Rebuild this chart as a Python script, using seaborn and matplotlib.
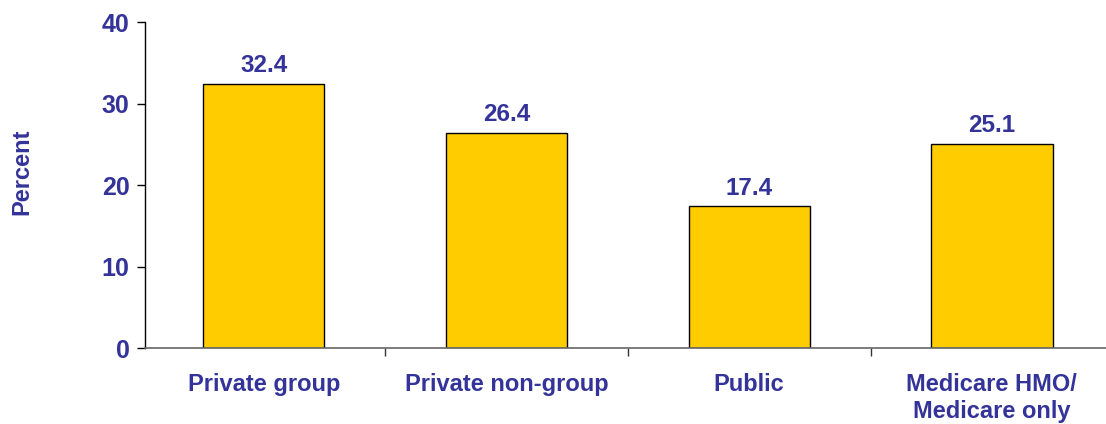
import pandas as pd
import matplotlib
matplotlib.use("Agg")
import matplotlib.pyplot as plt
import seaborn as sns

# dados
categorias = ["Private group", "Private non-group", "Public", "Medicare HMO/\nMedicare only"]
valores = [32.4, 26.4, 17.4, 25.1]

df = pd.DataFrame({"cat": categorias, "pct": valores})

sns.set_theme(style="white")
plt.rcParams['font.family'] = ['Liberation Sans', 'DejaVu Sans']

azul = "#333399"
fig = plt.figure(figsize=(11.06, 4.24), dpi=100)
ax = fig.add_axes([0.131, 0.179, 0.869, 0.769])

sns.barplot(data=df, x="cat", y="pct", color="#FFCC00", edgecolor="black",
            linewidth=1, width=0.5, saturation=1, ax=ax)

for i, v in enumerate(valores):
    ax.text(i, v + 0.8, f"{v:.1f}", ha="center", va="bottom",
            fontsize=17.5, fontweight="bold", color=azul)

ax.set_ylim(0, 40)
ax.set_yticks([0, 10, 20, 30, 40])
ax.set_xlim(-0.49, 3.47)
ax.set_xticks([0, 1, 2, 3])
ax.set_xticklabels(categorias)
ax.set_xticks([0.5, 1.5, 2.5], minor=True)

ax.set_xlabel("")
ax.set_ylabel("Percent", fontsize=17, fontweight="bold", color=azul, va="center")
ax.yaxis.set_label_coords(-0.128, 0.54)

for rotulo in ax.get_yticklabels():
    rotulo.set_fontweight("bold")
    rotulo.set_color(azul)
    rotulo.set_fontsize(18)
for rotulo in ax.get_xticklabels():
    rotulo.set_fontweight("bold")
    rotulo.set_color(azul)
    rotulo.set_fontsize(17)

ax.tick_params(axis="x", which="major", length=0, pad=18)
ax.tick_params(axis="x", which="minor", length=6, color="#333333", width=1, bottom=True)
ax.tick_params(axis="y", length=6, color="black", width=1, left=True, pad=5)

for s in ["top", "right"]:
    ax.spines[s].set_visible(False)
ax.spines["left"].set_color("black")
ax.spines["left"].set_linewidth(1)
ax.spines["bottom"].set_color("#666666")
ax.spines["bottom"].set_linewidth(1.2)

plt.savefig("out.png", dpi=100)
